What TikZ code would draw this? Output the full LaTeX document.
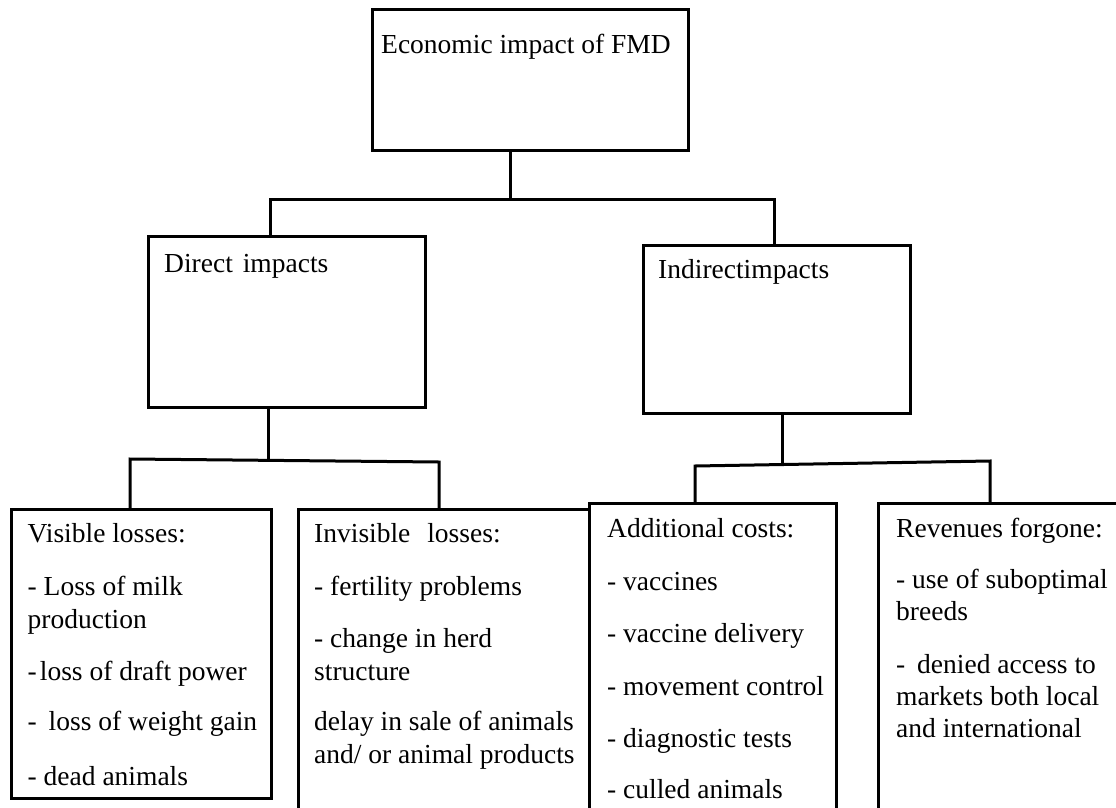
\documentclass[tikz,border=0pt]{standalone}
\usepackage{fontspec}
\setmainfont{Liberation Serif}
\begin{document}
\begin{tikzpicture}[x=1pt,y=-1pt,
  box/.style={draw, line width=3pt, rectangle, inner sep=0pt, anchor=north west},
  conn/.style={line width=3pt},
  txt/.style={anchor=base west, inner sep=0pt, font=\fontsize{27.5}{33}\selectfont}]
\useasboundingbox (0,0) rectangle (1116,808);
\clip (0,0) rectangle (1116,808);
% boxes
\node[box, minimum width=316pt, minimum height=141pt] (top) at (371,8) {};
\node[box, minimum width=277pt, minimum height=171pt] (dir) at (147,235) {};
\node[box, minimum width=267pt, minimum height=168pt] (ind) at (642,244) {};
\node[box, minimum width=260pt, minimum height=289pt] (vis) at (10,508) {};
\node[box, minimum width=291pt, minimum height=330pt] (inv) at (297,508) {};
\node[box, minimum width=247pt, minimum height=330pt] (add) at (588,502) {};
\node[box, minimum width=260pt, minimum height=330pt] (rev) at (877,502) {};
% junction coordinates
\coordinate (jT) at (510,199);
\coordinate (jTL) at (270,199);
\coordinate (jTR) at (774,199);
\coordinate (jD) at (268,460.5);
\coordinate (jDL) at (130,459);
\coordinate (jDR) at (439,462);
\coordinate (jI) at (782,464);
\coordinate (jIL) at (695,466);
\coordinate (jIR) at (990,461);
% connectors
\draw[conn] (top.south -| jT) -- (jT);
\draw[conn] (dir.north -| jTL) -- (jTL) -- (jTR) -- (ind.north -| jTR);
\draw[conn] (dir.south -| jD) -- (jD);
\draw[conn] (vis.north -| jDL) -- (jDL) -- (jDR) -- (inv.north -| jDR);
\draw[conn] (ind.south -| jI) -- (jI);
\draw[conn] (add.north -| jIL) -- (jIL) -- (jIR) -- (rev.north -| jIR);
% texts
\node[txt] (t0) at (381,53) {Economic impact of FMD};
\node[txt] (d0) at (164,272) {Direct\hspace{3pt} impacts};
\node[txt] (i0) at (658,278) {Indirectimpacts};
% visible
\node[txt] (v0) at (27.5,542) {Visible losses:};
\node[txt] (v1) at (27.5,595) {- Loss of milk};
\node[txt] (v2) at (27.5,628) {production};
\node[txt] (v3) at (27.5,680) {-\hspace{3pt}loss of draft power};
\node[txt] (v4) at (27.5,730) {- \hspace{5pt}loss of weight gain};
\node[txt] (v5) at (27.5,785) {- dead animals};
% invisible
\node[txt] (n0) at (314,542) {Invisible\hspace{10pt} losses:};
\node[txt] (n1) at (314,595) {- fertility problems};
\node[txt] (n2) at (314,647) {- change in herd};
\node[txt] (n3) at (314,680) {structure};
\node[txt] (n4) at (314,730) {delay in sale of animals};
\node[txt] (n5) at (314,763) {and/ or animal products};
% additional
\node[txt] (a0) at (607,537) {Additional costs:};
\node[txt] (a1) at (607,590) {- vaccines};
\node[txt] (a2) at (607,642) {- vaccine delivery};
\node[txt] (a3) at (607,695) {- movement control};
\node[txt] (a4) at (607,747) {- diagnostic tests};
\node[txt] (a5) at (607,798) {- culled animals};
% revenues
\node[txt] (r0) at (896,537) {Revenues forgone:};
\node[txt] (r1) at (896,588) {- use of suboptimal};
\node[txt] (r2) at (896,620) {breeds};
\node[txt] (r3) at (896,673) {- \hspace{5pt}denied access to};
\node[txt] (r4) at (896,705) {markets both local};
\node[txt] (r5) at (896,737) {and international};
\end{tikzpicture}
\end{document}
